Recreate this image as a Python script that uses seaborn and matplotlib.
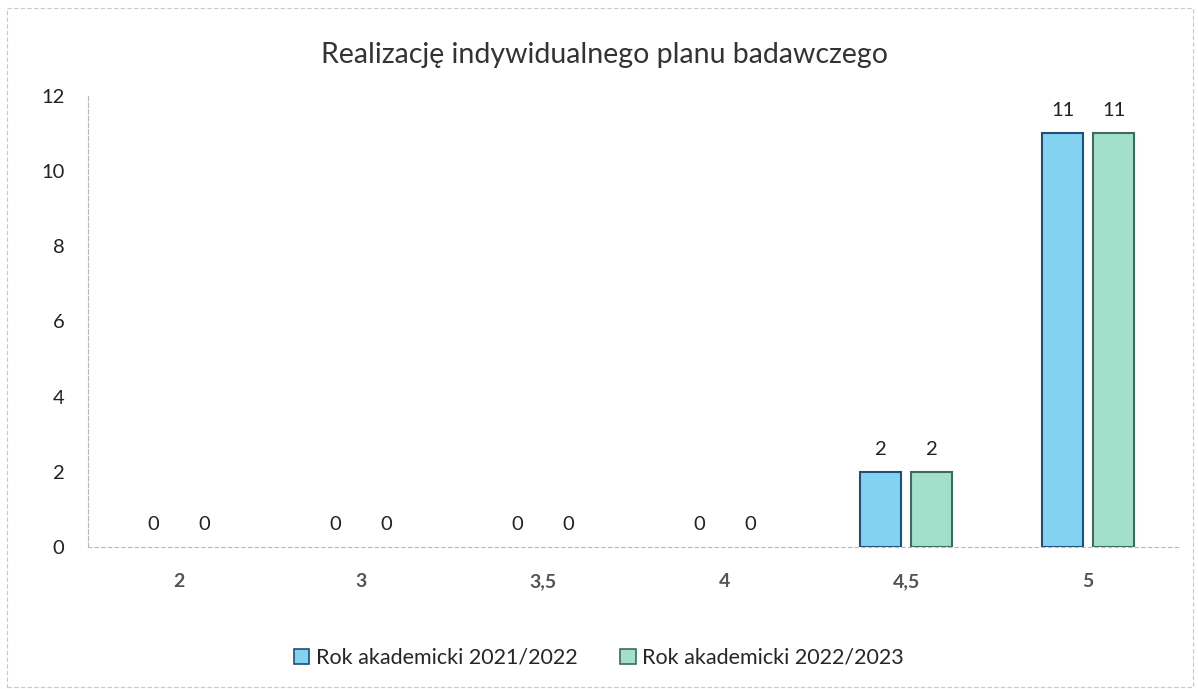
import pandas as pd
import matplotlib
matplotlib.use("Agg")
import matplotlib.pyplot as plt
import seaborn as sns
from matplotlib.patches import Patch, Rectangle

# dane z wykresu
oceny = ["2", "3", "3,5", "4", "4,5", "5"]
rok_2021_2022 = [0, 0, 0, 0, 2, 11]
rok_2022_2023 = [0, 0, 0, 0, 2, 11]
serie = ["Rok akademicki 2021/2022", "Rok akademicki 2022/2023"]

df = pd.DataFrame({
    "ocena": oceny * 2,
    "liczba": rok_2021_2022 + rok_2022_2023,
    "rok": [serie[0]] * len(oceny) + [serie[1]] * len(oceny),
})

sns.set_theme(style="white")
plt.rcParams["font.family"] = ["Lato", "DejaVu Sans"]

kolory = ["#84d2f2", "#a3e0cb"]
krawedzie = ["#1f4f7a", "#3d6b63"]

fig = plt.figure(figsize=(11.98, 6.89), dpi=100)
ax = fig.add_axes([0.0735, 0.206, 0.9107, 0.655])

sns.barplot(data=df, x="ocena", y="liczba", hue="rok", order=oceny,
            hue_order=serie, palette=kolory, saturation=1, width=0.56, gap=0.2,
            legend=False, ax=ax)

for cont, kr in zip(ax.containers, krawedzie):
    for p in cont:
        p.set_edgecolor(kr)
        p.set_linewidth(1.5 if p.get_height() > 0 else 0)
    ax.bar_label(cont, padding=10, fontsize=14.5, color="#222222")

ax.set_ylim(0, 12)
ax.set_yticks(range(0, 13, 2))
ax.set_xlabel("")
ax.set_ylabel("")
ax.tick_params(axis="y", labelsize=14.5, pad=17, colors="#222222", length=0)
ax.tick_params(axis="x", labelsize=14, pad=19, colors="#555555", length=0)
for lab in ax.get_xticklabels():
    lab.set_fontweight("bold")

sns.despine(ax=ax, top=True, right=True)
ax.spines["left"].set_color("#b5b5c5")
ax.spines["left"].set_linestyle((0, (4, 2)))
ax.spines["left"].set_linewidth(0.8)
ax.spines["bottom"].set_color("#b8b8b8")
ax.spines["bottom"].set_linestyle((0, (3, 3)))
ax.spines["bottom"].set_linewidth(0.8)

fig.text(0.505, 0.92, "Realizację indywidualnego planu badawczego",
         ha="center", va="center", fontsize=20.5, color="#333333")

uchwyty = [Patch(facecolor=k, edgecolor=e, linewidth=1.2, label=s)
           for k, e, s in zip(kolory, krawedzie, serie)]
fig.legend(handles=uchwyty, loc="center", bbox_to_anchor=(0.5, 0.045),
           ncol=2, frameon=False, fontsize=15.5, handlelength=0.7,
           handleheight=0.7, handletextpad=0.3, columnspacing=2.0)

# ramka wykresu
fig.patches.append(Rectangle((0.006, 0.003), 0.99, 0.985, transform=fig.transFigure,
                             fill=False, edgecolor="#c8c8d0", linewidth=0.8,
                             linestyle=(0, (4, 2))))

fig.savefig("out.png", dpi=100)
